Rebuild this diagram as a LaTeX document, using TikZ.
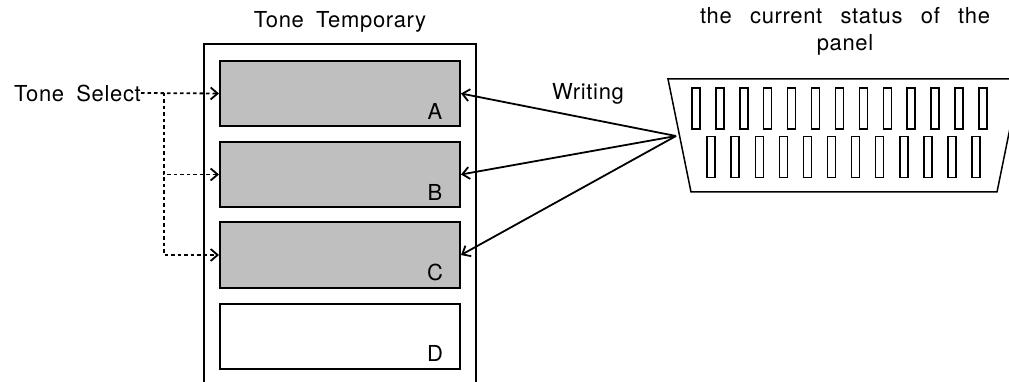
\documentclass[tikz,border=0pt]{standalone}
\usepackage{fontspec}
\setmainfont{TeX Gyre Heros}[LetterSpace=3,WordSpace=1.8]
\usetikzlibrary{arrows.meta}
\tikzset{
    membox/.style={draw, line width=2pt, minimum width=240pt, minimum height=65pt, inner sep=0pt},
    toned/.style={fill=black!25},
    boxlabel/.style={inner sep=0pt},
    wr/.style={-{Straight Barb[length=7pt,width=12pt]}, line width=1.8pt},
    sel/.style={-{Straight Barb[length=7pt,width=12pt]}, line width=1.8pt, dash pattern=on 3.5pt off 3pt},
    slot/.style={draw, line width=1.4pt, minimum width=8pt, minimum height=41pt, inner sep=0pt}
}
\begin{document}
\begin{tikzpicture}[x=1pt, y=-1pt, font=\fontsize{22}{27}\selectfont]
                \useasboundingbox (0,0) rectangle (1009,382);
                \node (title) at (340,22) {Tone Temporary};
                \draw[line width=1.3pt] (204,382) |- (476,44) -- (476,382);
                \node[membox, toned] (A) at (340,93.5) {};
                \node[membox, toned] (B) at (340,174.5) {};
                \node[membox, toned] (C) at (340,255) {};
                \node[membox] (D) at (340,336) {};
                \foreach \m in {A,B,C,D}
                    \node[boxlabel] (l\m) at ([xshift=-26pt,yshift=16pt]\m.south east) {\m};
                \node[anchor=east, inner sep=0pt] (sel) at (141,93) {Tone Select};
                \coordinate (branch) at (164,93);
                \draw[sel] (sel.east) -- (A.west);
                \draw[sel] (branch) |- (B.west);
                \draw[sel] (branch) |- (C.west);
                % panel
                \draw[line width=1.5pt] (668,79) -- (1020,79) -- (997,192) -- (691,192) -- cycle;
                \foreach \i in {0,...,12}
                    \node[slot] (t\i) at (696+23.9*\i,108.5) {};
                \foreach \i in {0,...,11}
                    \node[slot] (b\i) at (711+24.1*\i,157) {};
                \node[align=center, inner sep=0pt] (panel) at (845,31) {\makebox[290pt][s]{the current status of the}\\panel};
                \coordinate (apex) at (676,136);
                \node[inner sep=0pt] (writing) at (588,94) {Writing};
                \draw[wr] (apex) -- (A.east);
                \draw[wr] (apex) -- (B.east);
                \draw[wr] (apex) -- (C.east);
            \end{tikzpicture}
\end{document}
